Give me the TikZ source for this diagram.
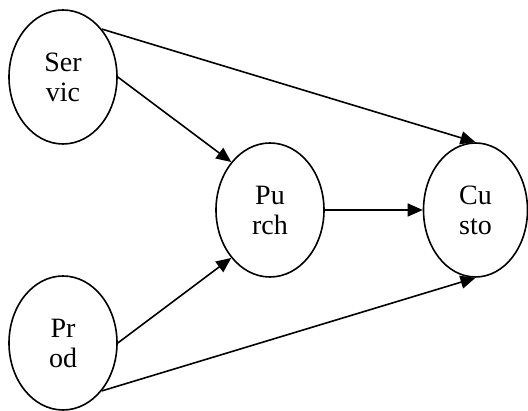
\documentclass[tikz,border=0pt]{standalone}
\usepackage{fontspec}
\setmainfont{Liberation Serif}
\usepackage{tikz}
\usetikzlibrary{arrows.meta, positioning, shapes}

\begin{document}
\begin{tikzpicture}[x=1pt, y=1pt,
  oval/.style={ellipse, draw, line width=1.6pt, minimum width=108pt, minimum height=134pt,
    align=center, font=\fontsize{28}{30}\selectfont,
    execute at begin node={\rule{0pt}{27pt}}},
  link/.style={line width=1.6pt, -{Triangle[length=15pt, width=13pt]}}]
\useasboundingbox (0,0) rectangle (528,411);

% Nodes
\node[oval] (serv) at (63,334) {Ser\\vic};
\node[oval] (prod) at (63,68) {Pr\\od};
\node[oval] (purch) at (270,201) {Pu\\rch};
\node[oval, minimum width=104pt] (cust) at (475.5,201) {Cu\\sto};

% Arrows
\draw[link] (serv.north east) -- (cust.north);
\draw[link] (serv.east) -- (purch.north west);
\draw[link] (prod.east) -- (purch.south west);
\draw[link] (prod.south east) -- (cust.south);
\draw[link] (purch.east) -- (cust.west);
\end{tikzpicture}
\end{document}
